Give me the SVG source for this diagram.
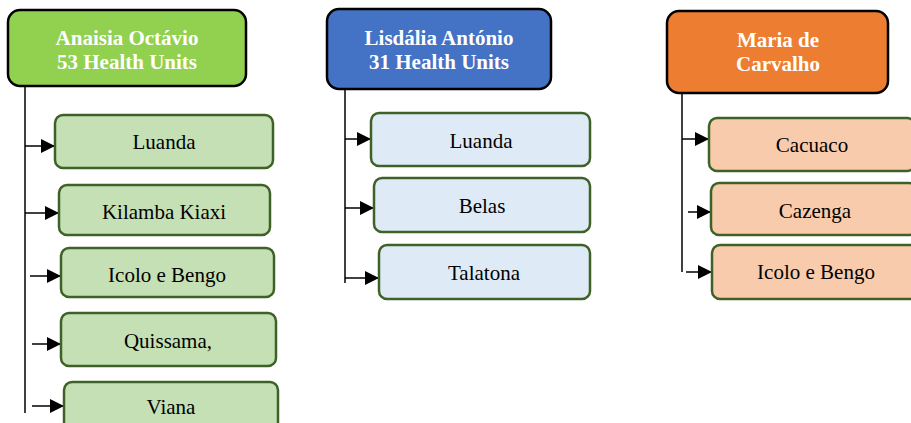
<svg xmlns="http://www.w3.org/2000/svg" width="911" height="423" viewBox="0 0 911 423">
<defs>
<style>
.hdr{stroke:#000;stroke-width:2.5}
.box{stroke:#3f6127;stroke-width:2.5}
text{font-family:'Liberation Serif','Times New Roman',Times,serif}
.ht{font-weight:bold;font-size:21px;fill:#fff;text-anchor:middle}
.bt{font-size:21px;fill:#000;text-anchor:middle}
.ln{stroke:#000;stroke-width:1.5;fill:none}
</style>
<marker id="ah" markerUnits="userSpaceOnUse" markerWidth="14" markerHeight="14" viewBox="0 0 14 14" refX="14" refY="7" orient="auto">
<path d="M0,0 L14,7 L0,14 Z" fill="#000"/>
</marker>
</defs>
<rect width="911" height="423" fill="#fff"/>
<g id="connectors">
<line class="ln" x1="25" y1="87" x2="25" y2="413"/>
<line class="ln" x1="25" y1="146" x2="55" y2="146" marker-end="url(#ah)"/>
<line class="ln" x1="25" y1="213" x2="59" y2="213" marker-end="url(#ah)"/>
<line class="ln" x1="30" y1="276" x2="61" y2="276" marker-end="url(#ah)"/>
<line class="ln" x1="32" y1="344" x2="61" y2="344" marker-end="url(#ah)"/>
<line class="ln" x1="32" y1="406" x2="64" y2="406" marker-end="url(#ah)"/>
<line class="ln" x1="345" y1="89" x2="345" y2="283"/>
<line class="ln" x1="345" y1="139" x2="371" y2="139" marker-end="url(#ah)"/>
<line class="ln" x1="345" y1="208" x2="374" y2="208" marker-end="url(#ah)"/>
<line class="ln" x1="345" y1="278" x2="379" y2="278" marker-end="url(#ah)"/>
<line class="ln" x1="682" y1="93" x2="682" y2="272"/>
<line class="ln" x1="682" y1="139" x2="709" y2="139" marker-end="url(#ah)"/>
<line class="ln" x1="688" y1="212" x2="711" y2="212" marker-end="url(#ah)"/>
<line class="ln" x1="686" y1="272" x2="712" y2="272" marker-end="url(#ah)"/>
</g>
<g id="h1"><rect class="hdr" x="8" y="10" width="238" height="76" rx="12" fill="#92d050"/><text class="ht" x="127" y="45">Anaisia Octávio</text><text class="ht" x="127" y="69">53 Health Units</text></g>
<g id="a1"><rect class="box" x="55" y="115" width="218" height="53" rx="8" fill="#c5e0b4"/><text class="bt" x="164" y="149">Luanda</text></g>
<g id="a2"><rect class="box" x="59" y="185" width="211" height="50" rx="8" fill="#c5e0b4"/><text class="bt" x="164" y="219">Kilamba Kiaxi</text></g>
<g id="a3"><rect class="box" x="61" y="248" width="213" height="49" rx="8" fill="#c5e0b4"/><text class="bt" x="167" y="282">Icolo e Bengo</text></g>
<g id="a4"><rect class="box" x="61" y="313" width="215" height="53" rx="8" fill="#c5e0b4"/><text class="bt" x="168" y="348">Quissama,</text></g>
<g id="a5"><rect class="box" x="64" y="382" width="214" height="50" rx="8" fill="#c5e0b4"/><text class="bt" x="171" y="414">Viana</text></g>
<g id="h2"><rect class="hdr" x="327" y="9" width="224" height="80" rx="12" fill="#4472c4"/><text class="ht" x="439" y="45">Lisdália António</text><text class="ht" x="439" y="69">31 Health Units</text></g>
<g id="b1"><rect class="box" x="371" y="113" width="219" height="53" rx="8" fill="#deebf7"/><text class="bt" x="481" y="148">Luanda</text></g>
<g id="b2"><rect class="box" x="374" y="178" width="216" height="54" rx="8" fill="#deebf7"/><text class="bt" x="482" y="213">Belas</text></g>
<g id="b3"><rect class="box" x="379" y="245" width="211" height="54" rx="8" fill="#deebf7"/><text class="bt" x="484" y="280">Talatona</text></g>
<g id="h3"><rect class="hdr" x="667" y="11" width="221" height="82" rx="12" fill="#ed7d31"/><text class="ht" x="778" y="47">Maria de</text><text class="ht" x="778" y="71">Carvalho</text></g>
<g id="c1"><rect class="box" x="709" y="118" width="206" height="53" rx="8" fill="#f8cbad"/><text class="bt" x="812" y="152">Cacuaco</text></g>
<g id="c2"><rect class="box" x="711" y="183" width="206" height="52" rx="8" fill="#f8cbad"/><text class="bt" x="815" y="218">Cazenga</text></g>
<g id="c3"><rect class="box" x="712" y="245" width="206" height="54" rx="8" fill="#f8cbad"/><text class="bt" x="816" y="279">Icolo e Bengo</text></g>
</svg>
